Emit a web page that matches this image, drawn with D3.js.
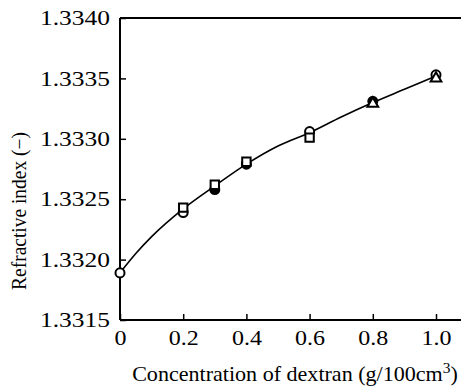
<!DOCTYPE html>
<html><head><meta charset="utf-8">
<script src="https://cdn.jsdelivr.net/npm/d3@7"></script>
<style>body{margin:0;background:#fff}svg{display:block}</style>
</head><body>
<script>
const xTicks = [0, 0.2, 0.4, 0.6, 0.8, 1.0];
const xTickLabels = ["0", "0.2", "0.4", "0.6", "0.8", "1.0"];
const yTicks = [1.3315, 1.3320, 1.3325, 1.3330, 1.3335, 1.3340];
const yTickLabels = ["1.3315", "1.3320", "1.3325", "1.3330", "1.3335", "1.3340"];

const openCircleX = [0, 0.2, 0.6, 1.0];
const openCircleY = [1.33189, 1.33239, 1.33306, 1.33353];
const filledCircleX = [0.3, 0.4, 0.8];
const filledCircleY = [1.33258, 1.33279, 1.33331];
const squareX = [0.2, 0.3, 0.4, 0.6];
const squareY = [1.33243, 1.33262, 1.33281, 1.33301];
const triangleX = [0.8, 1.0];
const triangleY = [1.33329, 1.33350];

const curveX = [0, 0.05, 0.1, 0.2, 0.3, 0.4, 0.5, 0.6, 0.7, 0.8, 0.9, 1.0];
const curveY = [1.33189, 1.33205, 1.33219, 1.33242, 1.33261, 1.33279, 1.33294, 1.33305, 1.33318, 1.33330, 1.33341, 1.33352];

const W = 461, H = 386;
const L = 120, T = 18, R = 436, B = 320;
const x = d3.scaleLinear().domain([0, 1]).range([L, R]);
const y = d3.scaleLinear().domain([1.3315, 1.3340]).range([B, T]);

const svg = d3.select("body").append("svg").attr("width", W).attr("height", H);
const font = "'Liberation Serif','Times New Roman',serif";

svg.append("path").attr("d", `M${L},${T}H${W+5}`).attr("stroke","#000").attr("stroke-width",2).attr("fill","none");

const xAxis = d3.axisBottom(x).tickValues(xTicks).tickSize(-6).tickFormat((d,i)=>xTickLabels[i]).tickPadding(10);
const gx = svg.append("g").attr("transform", `translate(0,${B})`).call(xAxis);
gx.select(".domain").attr("d", `M${L},0H${W+5}`).attr("stroke-width",2);
gx.selectAll(".tick line").attr("stroke-width",1.5);
gx.selectAll("text").attr("font-family", font).attr("font-size", 21).attr("fill","#000")
  .attr("textLength", d => d === 0 ? 12 : 30).attr("lengthAdjust","spacingAndGlyphs");

const yAxis = d3.axisLeft(y).tickValues(yTicks).tickSize(-6).tickFormat((d,i)=>yTickLabels[i]).tickPadding(10);
const gy = svg.append("g").attr("transform", `translate(${L},0)`).call(yAxis);
gy.select(".domain").attr("d", `M0,${T}V${B}`).attr("stroke-width",2);
gy.selectAll(".tick line").attr("stroke-width",1.5);
gy.selectAll("text").attr("font-family", font).attr("font-size", 21).attr("fill","#000")
  .attr("textLength", 70).attr("lengthAdjust","spacingAndGlyphs");

const curve = curveX.map((v,i)=>[v, curveY[i]]);
svg.append("path").datum(curve)
  .attr("d", d3.line().x(d=>x(d[0])).y(d=>y(d[1])).curve(d3.curveMonotoneX))
  .attr("fill","none").attr("stroke","#000").attr("stroke-width",1.6);

const sym = (type, size) => d3.symbol().type(type).size(size)();
function drawMarkers(xs, ys, type, size, fill) {
  svg.append("g").selectAll("path").data(xs.map((v,i)=>[v, ys[i]])).join("path")
    .attr("transform", d=>`translate(${x(d[0])},${y(d[1])})`)
    .attr("d", sym(type, size))
    .attr("fill", fill).attr("stroke","#000").attr("stroke-width",2);
}
drawMarkers(filledCircleX, filledCircleY, d3.symbolCircle, 64, "#000");
drawMarkers(openCircleX, openCircleY, d3.symbolCircle, 64, "#fff");
drawMarkers(triangleX, triangleY, d3.symbolTriangle, 50, "#fff");
drawMarkers(squareX, squareY, d3.symbolSquare, 70, "#fff");

function fitWidth(sel, cx, target) {
  const w = sel.node().getBBox().width;
  const s = target / w;
  sel.attr("transform", `translate(${cx},0) scale(${s},1) translate(${-cx},0)`);
}
const xt = svg.append("text").attr("x", 295).attr("y", 381).attr("text-anchor","middle")
  .attr("font-family", font).attr("font-size", 20)
  .html("Concentration of dextran (g/100cm<tspan dy='-8' font-size='14'>3</tspan><tspan dy='8'>)</tspan>");
fitWidth(xt, 295, 326);
const yt = svg.append("g").attr("transform","translate(26,211) rotate(-90)");
const ytt = yt.append("text").attr("x",0).attr("y",0).attr("text-anchor","middle")
  .attr("font-family", font).attr("font-size", 20).text("Refractive index (\u2212)");
fitWidth(ytt, 0, 158);
</script>
</body></html>
